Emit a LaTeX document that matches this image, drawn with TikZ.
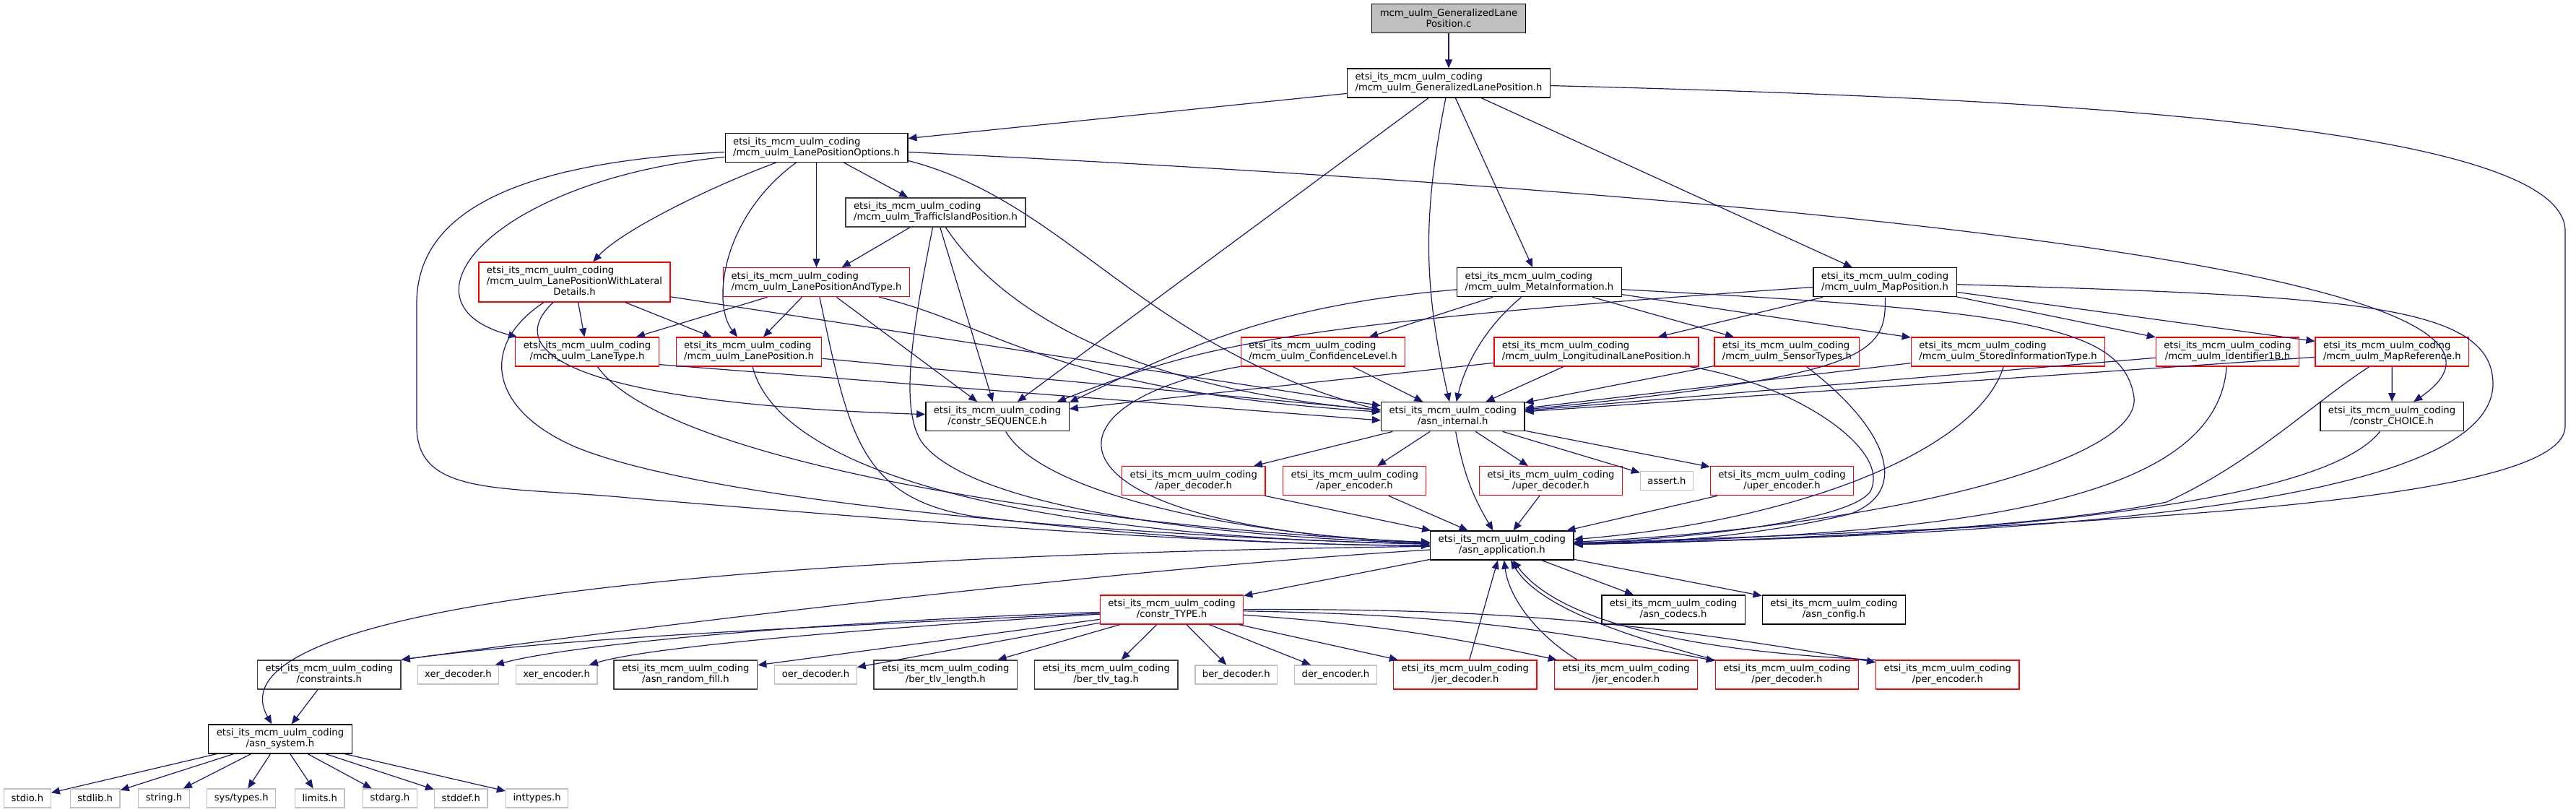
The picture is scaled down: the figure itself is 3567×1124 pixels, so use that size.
\documentclass[tikz,border=0pt]{standalone}
\usepackage{fontspec}
\setmainfont{DejaVu Sans}
\usetikzlibrary{arrows.meta}
\definecolor{navy}{HTML}{191970}
\definecolor{boxgrey}{HTML}{BFBFBF}
\definecolor{darkbox}{HTML}{404040}
\newcommand{\hdr}[1]{\begin{tabular}{@{}c@{}}\multicolumn{1}{@{}l@{}}{etsi\_its\_mcm\_uulm\_coding}\\#1\end{tabular}}

\begin{document}
\begin{tikzpicture}[x=0.5pt,y=-0.5pt,
  file/.style={draw=black, line width=0.65pt, fill=white, inner xsep=5.5pt, inner ysep=1pt, minimum height=20pt, font=\fontsize{6.6}{7.5}\selectfont},
  darkfile/.style={file, draw=darkbox, line width=0.8pt},
  redfile/.style={file, draw=red, line width=0.6pt},
  sysfile/.style={file, draw=boxgrey, inner xsep=5pt, minimum height=13pt},
  inc/.style={navy, line width=0.6pt, -{Triangle[length=6pt,width=5pt]}}]
\useasboundingbox (0,0) rectangle (3567,1124);

\node[file, fill=boxgrey, align=center] (root) at (2006,25.5) {mcm\_uulm\_GeneralizedLane\\Position.c};
\node[file] (glp) at (2006,115) {\hdr{/mcm\_uulm\_GeneralizedLanePosition.h}};
\node[file] (lpo) at (1130.5,204.5) {\hdr{/mcm\_uulm\_LanePositionOptions.h}};
\node[darkfile] (tip) at (1295.5,294) {\hdr{/mcm\_uulm\_TrafficIslandPosition.h}};
\node[redfile, minimum height=27.5pt] (lpwld) at (795.5,390.5) {\hdr{/mcm\_uulm\_LanePositionWithLateral\\Details.h}};
\node[redfile] (lpat) at (1130.5,390.7) {\hdr{/mcm\_uulm\_LanePositionAndType.h}};
\node[file] (meta) at (2131.5,390.7) {\hdr{/mcm\_uulm\_MetaInformation.h}};
\node[file] (mappos) at (2610,390.7) {\hdr{/mcm\_uulm\_MapPosition.h}};
\node[redfile] (lt) at (813,487) {\hdr{/mcm\_uulm\_LaneType.h}};
\node[redfile] (lp) at (1037,487) {\hdr{/mcm\_uulm\_LanePosition.h}};
\node[redfile] (conf) at (1832,487) {\hdr{/mcm\_uulm\_ConfidenceLevel.h}};
\node[redfile] (llp) at (2210.5,487) {\hdr{/mcm\_uulm\_LongitudinalLanePosition.h}};
\node[redfile] (sensor) at (2474.4,487) {\hdr{/mcm\_uulm\_SensorTypes.h}};
\node[redfile] (stored) at (2780.5,487) {\hdr{/mcm\_uulm\_StoredInformationType.h}};
\node[redfile] (id1b) at (3084.5,487) {\hdr{/mcm\_uulm\_Identifier1B.h}};
\node[redfile] (mapref) at (3312.4,487) {\hdr{/mcm\_uulm\_MapReference.h}};
\node[file] (seq) at (1381,576.7) {\hdr{/constr\_SEQUENCE.h}};
\node[file] (internal) at (2011.7,576.7) {\hdr{/asn\_internal.h}};
\node[file] (choice) at (3312,576.7) {\hdr{/constr\_CHOICE.h}};
\node[redfile] (aperdec) at (1652.8,665.7) {\hdr{/aper\_decoder.h}};
\node[redfile] (aperenc) at (1875.7,665.7) {\hdr{/aper\_encoder.h}};
\node[redfile] (uperdec) at (2147.4,665.7) {\hdr{/uper\_decoder.h}};
\node[sysfile] (assert) at (2308,665.5) {assert.h};
\node[redfile] (uperenc) at (2467.5,665.7) {\hdr{/uper\_encoder.h}};
\node[file] (app) at (2079.8,755) {\hdr{/asn\_application.h}};
\node[redfile] (type) at (1622.5,844) {\hdr{/constr\_TYPE.h}};
\node[file] (codecs) at (2317,844) {\hdr{/asn\_codecs.h}};
\node[file] (config) at (2539.4,844) {\hdr{/asn\_config.h}};
\node[darkfile] (constraints) at (455.8,934) {\hdr{/constraints.h}};
\node[sysfile] (xerdec) at (634.5,934) {xer\_decoder.h};
\node[sysfile] (xerenc) at (770.6,934) {xer\_encoder.h};
\node[darkfile] (randfill) at (949.4,934) {\hdr{/asn\_random\_fill.h}};
\node[sysfile] (oerdec) at (1129.5,934) {oer\_decoder.h};
\node[darkfile] (berlen) at (1309.3,934) {\hdr{/ber\_tlv\_length.h}};
\node[darkfile] (bertag) at (1531.7,934) {\hdr{/ber\_tlv\_tag.h}};
\node[sysfile] (berdec) at (1711.8,934) {ber\_decoder.h};
\node[sysfile] (derenc) at (1849.5,934) {der\_encoder.h};
\node[redfile] (jerdec) at (2028.8,934) {\hdr{/jer\_decoder.h}};
\node[redfile] (jerenc) at (2251.5,934) {\hdr{/jer\_encoder.h}};
\node[redfile] (perdec) at (2474.4,934) {\hdr{/per\_decoder.h}};
\node[redfile] (perenc) at (2696.8,934) {\hdr{/per\_encoder.h}};
\node[file] (system) at (388,1023) {\hdr{/asn\_system.h}};

% system headers
\foreach \n/\x/\f in {stdio/38/{stdio.h}, stdlib/131.7/{stdlib.h}, string/227/{string.h},
  systypes/334.3/{sys/types.h}, limits/442.8/{limits.h}, stdarg/540/{stdarg.h},
  stddef/638.3/{stddef.h}, inttypes/743.6/{inttypes.h}}{
\node[sysfile] (\n) at (\x,1105) {\f};
\draw[inc] (system) -- (\n);
}

\draw[inc] (root) -- (glp);
\draw[inc] (glp) -- (lpo);
\draw[inc] (glp) -- (seq);
\draw[inc] (glp) to[bend right=12] (internal);
\draw[inc] (glp) -- (meta);
\draw[inc] (glp) -- (mappos);
\draw[inc] (glp) .. controls (2800,135) and (3552,170) .. (3552,320) -- (3552,590) .. controls (3552,690) and (3000,725) .. (app);

\draw[inc] (lpo) -- (tip);
\draw[inc] (lpo) -- (lpat);
\draw[inc] (lpo) .. controls (1000,300) and (985,420) .. (lp);
\draw[inc] (lpo) .. controls (980,260) and (860,320) .. (lpwld);
\draw[inc] (lpo) .. controls (680,250) and (540,420) .. (lt.168);
\draw[inc] (lpo.-8) .. controls (1480,280) and (1580,480) .. (internal.175);
\draw[inc] (lpo) .. controls (2500,270) and (3600,380) .. (choice);
\draw[inc] (lpo) .. controls (700,225) and (577,300) .. (577,420) -- (577,590) .. controls (577,690) and (700,672) .. (880,690) .. controls (1300,725) and (1700,755) .. (app);

\draw[inc] (tip) -- (lpat);
\draw[inc] (tip) -- (seq);
\draw[inc] (tip) .. controls (1400,450) and (1600,540) .. (internal);
\draw[inc] (tip) .. controls (1265,450) and (1245,560) .. (1275,610) .. controls (1330,690) and (1600,740) .. (app);

\draw[inc] (lpwld) -- (lt);
\draw[inc] (lpwld) -- (lp);
\draw[inc] (lpwld) .. controls (680,500) and (850,560) .. (seq);
\draw[inc] (lpwld) -- (internal);
\draw[inc] (lpwld) .. controls (660,480) and (680,570) .. (800,620) .. controls (1000,700) and (1600,745) .. (app);

\draw[inc] (lpat) -- (lt);
\draw[inc] (lpat) -- (lp);
\draw[inc] (lpat) -- (seq);
\draw[inc] (lpat) .. controls (1380,450) and (1450,540) .. (internal);
\draw[inc] (lpat) .. controls (1175,600) and (1190,690) .. (1350,715) .. controls (1600,745) and (1800,755) .. (app);

\draw[inc] (lt.-10) -- (internal.183);
\draw[inc] (lt) .. controls (920,640) and (1500,730) .. (app);
\draw[inc] (lp) -- (internal);
\draw[inc] (lp) .. controls (1070,620) and (1300,740) .. (app);
\draw[inc] (seq) .. controls (1440,680) and (1700,740) .. (app);

\draw[inc] (meta) .. controls (1800,420) and (1680,460) .. (seq.11);
\draw[inc] (meta) -- (conf);
\draw[inc] (meta) .. controls (2060,450) and (2030,500) .. (internal);
\draw[inc] (meta) -- (sensor);
\draw[inc] (meta) -- (stored);
\draw[inc] (meta.-5) .. controls (2800,430) and (2940,450) .. (2955,550) .. controls (2965,640) and (2600,730) .. (app);

\draw[inc] (mappos) .. controls (1750,450) and (1660,480) .. (seq.14);
\draw[inc] (mappos) -- (llp);
\draw[inc] (mappos) .. controls (2612,490) and (2590,520) .. (internal);
\draw[inc] (mappos) -- (id1b);
\draw[inc] (mappos) -- (mapref);
\draw[inc] (mappos) .. controls (3250,410) and (3450,420) .. (3452,530) .. controls (3454,690) and (2900,740) .. (app);

\draw[inc] (conf) -- (internal);
\draw[inc] (conf) .. controls (1420,560) and (1440,730) .. (app);
\draw[inc] (llp) -- (seq);
\draw[inc] (llp) -- (internal);
\draw[inc] (llp) .. controls (2480,530) and (2620,620) .. (2590,680) .. controls (2560,725) and (2300,748) .. (app);
\draw[inc] (sensor) -- (internal);
\draw[inc] (sensor) .. controls (2610,590) and (2650,680) .. (2560,712) .. controls (2420,745) and (2280,752) .. (app);
\draw[inc] (stored) -- (internal);
\draw[inc] (stored) .. controls (2740,620) and (2500,720) .. (app);
\draw[inc] (id1b) -- (internal);
\draw[inc] (id1b) .. controls (3070,700) and (2700,740) .. (app);
\draw[inc] (mapref) -- (internal);
\draw[inc] (mapref) -- (choice);
\draw[inc] (mapref) .. controls (3200,560) and (3120,640) .. (3000,695) .. controls (2800,735) and (2400,750) .. (app);
\draw[inc] (choice) .. controls (3230,680) and (2900,740) .. (app);

\draw[inc] (internal) -- (aperdec);
\draw[inc] (internal) -- (aperenc);
\draw[inc] (internal) -- (uperdec);
\draw[inc] (internal) -- (assert);
\draw[inc] (internal) -- (uperenc);
\draw[inc] (internal) to[bend right=10] (app);
\draw[inc] (aperdec) -- (app);
\draw[inc] (aperenc) -- (app);
\draw[inc] (uperdec) -- (app);
\draw[inc] (uperenc) -- (app);

\draw[inc] (app) -- (type);
\draw[inc] (app) -- (codecs);
\draw[inc] (app) -- (config);
\draw[inc] (app) .. controls (900,770) and (290,850) .. (system);
\draw[inc] (app) .. controls (1500,790) and (800,880) .. (constraints.north east);

\draw[inc] (type) .. controls (1200,865) and (800,880) .. (constraints.north east);
\draw[inc] (type) .. controls (1150,860) and (800,890) .. (xerdec);
\draw[inc] (type) .. controls (1200,870) and (900,895) .. (xerenc);
\draw[inc] (type) -- (randfill);
\draw[inc] (type) -- (oerdec);
\draw[inc] (type) -- (berlen);
\draw[inc] (type) -- (bertag);
\draw[inc] (type) -- (berdec);
\draw[inc] (type) -- (derenc);
\draw[inc] (type) -- (jerdec);
\draw[inc] (type) to[bend left=4] (jerenc);
\draw[inc] (type) to[bend left=5] (perdec);
\draw[inc] (type) to[bend left=5] (perenc);
\draw[inc] (constraints) -- (system);

\draw[inc] (jerdec) -- (app);
\draw[inc] (jerenc.163) .. controls (2130,880) and (2090,830) .. (app);
\draw[inc] (perdec.north west) .. controls (2250,880) and (2130,840) .. (app);
\draw[inc] (perenc.north west) .. controls (2300,900) and (2150,850) .. (app);
\end{tikzpicture}
\end{document}
